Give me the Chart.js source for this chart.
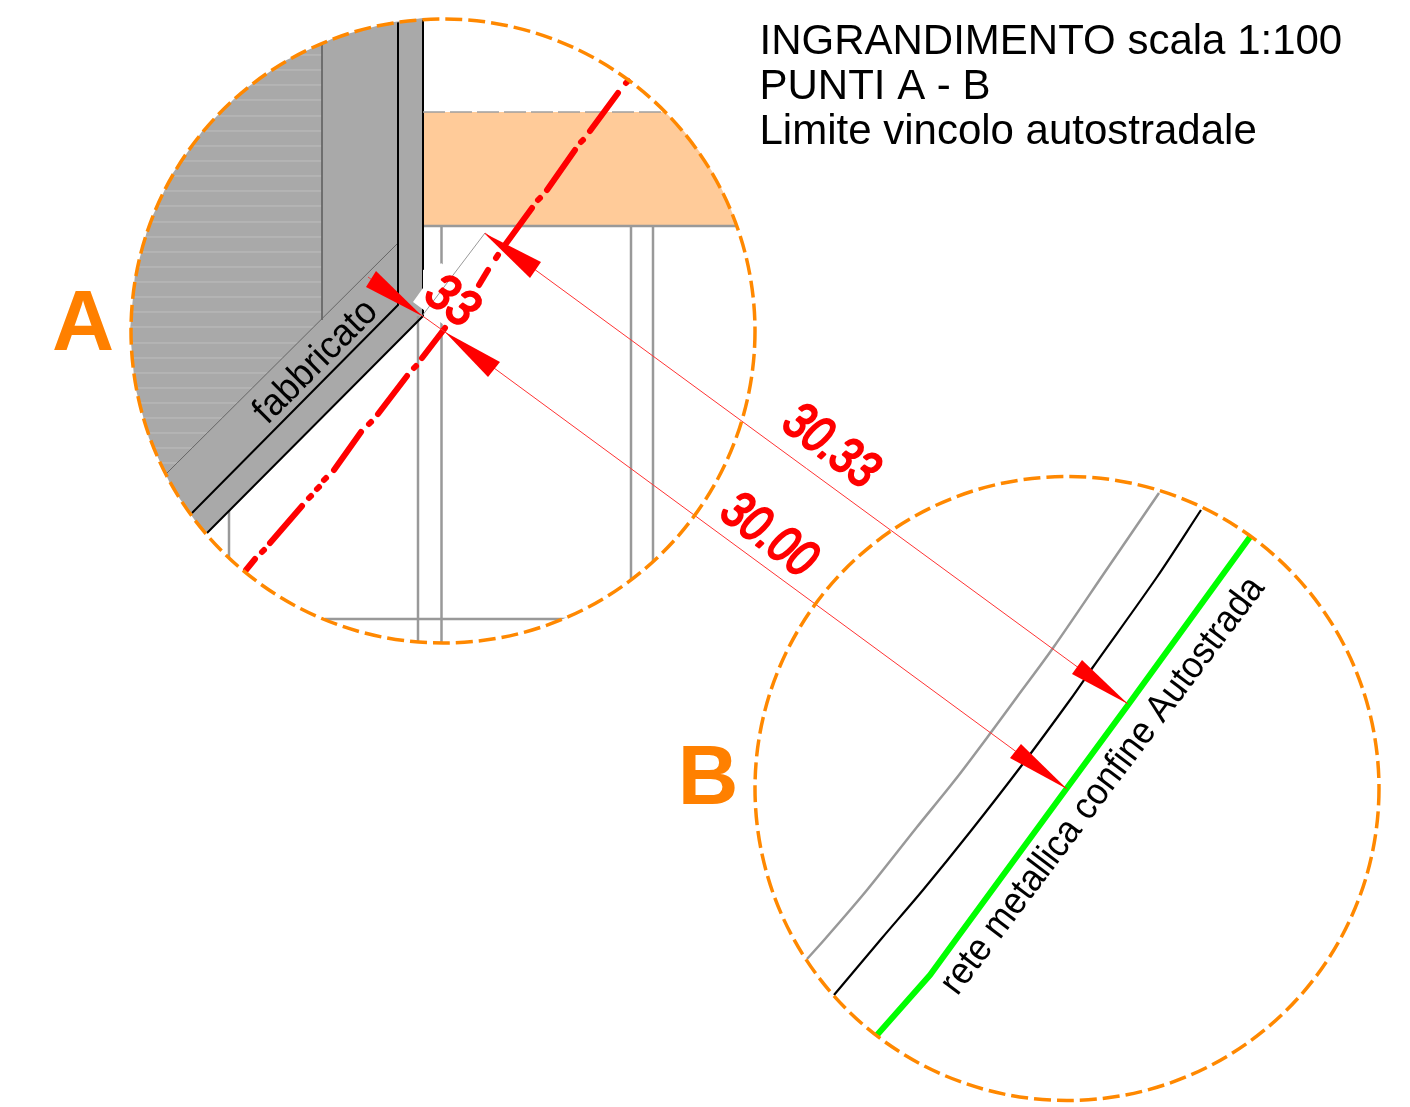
<!DOCTYPE html>
<html>
<head>
<meta charset="utf-8">
<style>
  html, body { margin: 0; background: #fff; }
  canvas { display: block; }
</style>
<script src="https://cdn.jsdelivr.net/npm/chart.js@4"></script>
</head>
<body>
<canvas id="chart" width="1410" height="1107"></canvas>
<script>
// drawing coordinates
const circleA = [443, 331, 312];
const circleB = [1067, 788.5, 312];

const wallArea = [[423, 18], [388.6, 22.8], [336, 36.9], [286.5, 59.9], [241.8, 91.2], [203.2, 129.8], [171.9, 174.5],
  [148.9, 224], [134.8, 276.6], [130, 331], [134.8, 385.4], [148.9, 438], [171.9, 487.5], [203.2, 532.2], [207, 533], [423, 316]];
const bandArea = [[423, 112], [665, 112], [682.8, 129.8], [699.4, 151.5], [714.1, 174.5], [726.7, 198.7], [737.5, 226], [423, 226]];
const labelPatch = [[413, 302], [423, 288], [423, 270], [441.4, 263.3], [497.8, 304.7], [469.4, 343.7]];

const hatchY = [55, 70, 85, 100, 116, 131, 146, 161, 176, 191, 206, 222, 237, 252, 267, 282, 297, 312, 327, 343, 358, 373, 388, 403, 418, 433, 448, 463];
const hatchEnd = [322, 322, 322, 322, 322, 322, 322, 322, 322, 322, 322, 322, 322, 322, 322, 322, 322, 322, 314, 298, 283, 268, 253, 238, 223, 208, 193, 178];

const greyLinesA = [
  [[441.5, 226], [441.5, 660]], [[418, 316], [418, 660]], [[631, 226], [631, 660]], [[653, 226], [653, 660]],
  [[229, 510], [229, 600]], [[325, 619], [600, 619]], [[423, 226], [760, 226]],
];
const wallThin = [[[322, 20], [322, 320]], [[398, 243], [167, 473]]];
const wallBlack = [[[398, 20], [398, 305], [192, 513]], [[423, 18], [423, 316], [207, 533]]];
const bandTop = [[423, 112], [665, 112]];

const centreDashes = [
  [[628, 81], [626, 83]], [[618, 93], [590, 131]], [[583, 140], [581, 142]], [[575, 150], [547, 190]], [[540, 198], [538, 200]],
  [[532, 208], [505, 245]], [[498, 255], [496, 258]], [[488, 270], [479, 285]], [[445, 328], [422, 358]], [[416, 366], [414, 368]],
  [[407, 376], [378, 414]], [[371, 422], [369, 424]], [[361, 432], [334, 470]], [[326, 478], [324, 480]], [[319, 487], [317, 489]], [[311, 496], [309, 498]],
  [[302, 506], [270, 543]], [[264, 550], [262, 552]], [[255, 559], [246, 570]],
];

const dimLines = [[[485, 233], [1128, 704]], [[445, 332], [1067, 789]], [[368, 277], [445, 332]]];
const extensionLine = [[485, 233], [422, 316]];
const arrows = [
  [[422, 316], [366, 287], [376, 271]],
  [[484, 233], [541, 262], [530, 278]],
  [[445, 332], [500, 362], [488, 377]],
  [[1128, 704], [1082, 660], [1072, 674]],
  [[1067, 789], [1021, 744], [1010, 758]],
];

const fenceLine = [[1250, 537], [1128, 705], [1067, 788], [957, 938], [930, 975], [877, 1035]];
const blackLineB = [[1201, 510], [1157, 577], [1093, 667], [1070, 700], [1022, 765], [970, 832], [923, 890], [882, 938], [834, 995]];
const greyLineB = [[1159, 493], [1107, 569], [1053, 648], [1017, 697], [992, 731], [955, 780], [917, 827], [867, 890], [825, 939], [807, 959]];

const titleLines = ['INGRANDIMENTO scala 1:100', 'PUNTI A - B', 'Limite vincolo autostradale'];
const titleX = [759.5, 759.5, 759.5];
const titleY = [53.5, 99, 144];

// text, x, y, rotation in degrees, font, colour, horizontal squeeze, outline width
const notes = [
  ['A', 83, 326, 0, 'bold 86px "Liberation Sans"', '#FF8000', 1, 0],
  ['B', 708, 781, 0, 'bold 84px "Liberation Sans"', '#FF8000', 1, 0],
  ['33', 451, 302, 37, 'italic 52px "Liberation Sans"', '#FF0000', 0.88, 2.5],
  ['30.33', 830, 447, 37, 'italic 52px "Liberation Sans"', '#FF0000', 0.8, 2.5],
  ['30.00', 768, 536, 37, 'italic 52px "Liberation Sans"', '#FF0000', 0.8, 2.5],
  ['fabbricato', 316, 362, -45, '38px "Liberation Sans"', '#000000', 0.95, 0],
  ['rete metallica confine Autostrada', 1103, 786, -53, '38px "Liberation Sans"', '#000000', 0.925, 0],
];

const pts = list => list.map(p => ({ x: p[0], y: p[1] }));
const stroke = (list, color, width, extra) => Object.assign({
  type: 'line', data: pts(list), borderColor: color, borderWidth: width,
  pointRadius: 0, tension: 0, fill: false,
}, extra);
const area = (list, color) => ({
  type: 'line', data: pts(list), borderWidth: 0, borderColor: color, backgroundColor: color,
  pointRadius: 0, tension: 0, fill: 'shape',
});

// paint order, first is lowest
const layers = [
  area(wallArea, '#A9A9A9'),
  area(bandArea, '#FFCB99'),
  ...hatchY.map((y, i) => stroke([[100, y], [hatchEnd[i], y]], '#BEBEBE', 1, { clipCircle: circleA })),
  ...greyLinesA.map(l => stroke(l, '#999999', 2.5, { clipCircle: circleA })),
  ...wallThin.map(l => stroke(l, '#666666', 1, { clipCircle: circleA })),
  ...wallBlack.map(l => stroke(l, '#000000', 2, { clipCircle: circleA })),
  stroke(bandTop, '#A0A0A0', 1.5, { borderDash: [22, 5] }),
  area(labelPatch, '#FFFFFF'),
  ...centreDashes.map(l => stroke(l, '#FF0000', 6, { borderCapStyle: 'round' })),
  stroke(greyLineB, '#999999', 2.5, { tension: 0.3 }),
  stroke(blackLineB, '#000000', 2.2, { tension: 0.3 }),
  stroke(fenceLine, '#00FF00', 6),
  stroke(extensionLine, '#999999', 1),
  ...dimLines.map(l => stroke(l, '#FF3333', 1)),
  ...arrows.map(a => area(a, '#FF0000')),
  ...[circleA, circleB].map(c => ({
    type: 'bubble', data: [{ x: c[0], y: c[1], r: c[2] }], backgroundColor: 'rgba(0,0,0,0)',
    borderColor: '#FF8800', borderWidth: 3.5, hoverRadius: 0, circleDash: [17, 6],
  })),
];
layers.forEach((d, i) => { d.order = layers.length - i; });

const sheetPlugin = {
  id: 'sheet',
  beforeDatasetDraw(chart, args) {
    const ds = chart.data.datasets[args.index];
    const { ctx, scales: { x, y } } = chart;
    ctx.save();
    if (ds.clipCircle) {
      const c = ds.clipCircle;
      ctx.beginPath();
      ctx.arc(x.getPixelForValue(c[0]), y.getPixelForValue(c[1]), c[2], 0, Math.PI * 2);
      ctx.clip();
    }
    if (ds.circleDash) ctx.setLineDash(ds.circleDash);
  },
  afterDatasetDraw(chart) {
    chart.ctx.restore();
  },
  afterDatasetsDraw(chart) {
    const { ctx, scales: { x, y } } = chart;
    ctx.save();
    ctx.fillStyle = '#000';
    ctx.font = '42px "Liberation Sans"';
    ctx.textBaseline = 'alphabetic';
    titleLines.forEach((t, i) => ctx.fillText(t, x.getPixelForValue(titleX[i]), y.getPixelForValue(titleY[i])));
    ctx.textAlign = 'center';
    ctx.textBaseline = 'middle';
    notes.forEach(n => {
      ctx.save();
      ctx.translate(x.getPixelForValue(n[1]), y.getPixelForValue(n[2]));
      ctx.rotate(n[3] * Math.PI / 180);
      ctx.scale(n[6], 1);
      ctx.font = n[4];
      ctx.fillStyle = n[5];
      ctx.fillText(n[0], 0, 0);
      if (n[7]) {
        ctx.strokeStyle = n[5];
        ctx.lineWidth = n[7];
        ctx.lineJoin = 'round';
        ctx.strokeText(n[0], 0, 0);
      }
      ctx.restore();
    });
    ctx.restore();
  },
};

new Chart(document.getElementById('chart'), {
  type: 'scatter',
  data: { datasets: layers },
  options: {
    responsive: false,
    animation: false,
    events: [],
    layout: { padding: 0, autoPadding: false },
    plugins: { legend: { display: false }, tooltip: { enabled: false }, title: { display: false } },
    scales: {
      x: { type: 'linear', min: 0, max: 1410, display: false },
      y: { type: 'linear', min: 0, max: 1107, reverse: true, display: false },
    },
  },
  plugins: [sheetPlugin],
});
</script>
</body>
</html>
